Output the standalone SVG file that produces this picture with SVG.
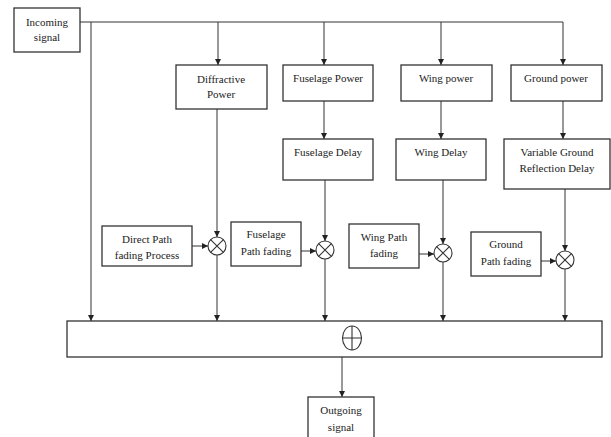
<svg xmlns="http://www.w3.org/2000/svg" width="611" height="437" viewBox="0 0 611 437">
<style>
  .box{fill:#fff;stroke:#333;stroke-width:1.3}
  .ln{fill:none;stroke:#333;stroke-width:1}
  .sym{fill:none;stroke:#333;stroke-width:1.1}
  text{font-family:"Liberation Serif","Times New Roman",serif;font-size:11px;fill:#222;text-anchor:middle}
</style>
<defs>
  <marker id="ah" markerUnits="userSpaceOnUse" markerWidth="7" markerHeight="7" refX="6" refY="3" orient="auto">
    <path d="M0,0 L6,3 L0,6 z" fill="#222"/>
  </marker>
</defs>
<rect width="611" height="437" fill="#fff"/>

<g id="connectors">
  <line class="ln" x1="80" y1="22" x2="563" y2="22"/>
  <line class="ln" x1="91" y1="22" x2="91" y2="321" marker-end="url(#ah)"/>
  <line class="ln" x1="218" y1="22" x2="218" y2="65" marker-end="url(#ah)"/>
  <line class="ln" x1="324" y1="22" x2="324" y2="65" marker-end="url(#ah)"/>
  <line class="ln" x1="441" y1="22" x2="441" y2="65" marker-end="url(#ah)"/>
  <line class="ln" x1="563" y1="22" x2="563" y2="65" marker-end="url(#ah)"/>
  <line class="ln" x1="217" y1="109" x2="217" y2="237" marker-end="url(#ah)"/>
  <line class="ln" x1="324" y1="101" x2="324" y2="139" marker-end="url(#ah)"/>
  <line class="ln" x1="325" y1="180" x2="325" y2="241" marker-end="url(#ah)"/>
  <line class="ln" x1="441" y1="101" x2="441" y2="139" marker-end="url(#ah)"/>
  <line class="ln" x1="443" y1="180" x2="443" y2="244" marker-end="url(#ah)"/>
  <line class="ln" x1="563" y1="101" x2="563" y2="139" marker-end="url(#ah)"/>
  <line class="ln" x1="565" y1="189" x2="565" y2="251" marker-end="url(#ah)"/>
  <line class="ln" x1="192" y1="246" x2="208" y2="246" marker-end="url(#ah)"/>
  <line class="ln" x1="301" y1="251" x2="316" y2="251" marker-end="url(#ah)"/>
  <line class="ln" x1="419" y1="254" x2="434" y2="254" marker-end="url(#ah)"/>
  <line class="ln" x1="541" y1="261" x2="556" y2="261" marker-end="url(#ah)"/>
  <line class="ln" x1="217" y1="255" x2="217" y2="321" marker-end="url(#ah)"/>
  <line class="ln" x1="325" y1="259" x2="325" y2="321" marker-end="url(#ah)"/>
  <line class="ln" x1="443" y1="262" x2="443" y2="321" marker-end="url(#ah)"/>
  <line class="ln" x1="565" y1="269" x2="565" y2="321" marker-end="url(#ah)"/>
  <line class="ln" x1="342" y1="357" x2="342" y2="397" marker-end="url(#ah)"/>
</g>

<g id="incoming">
  <rect class="box" x="14" y="8" width="66" height="44"/>
  <text x="47" y="26">Incoming</text>
  <text x="47" y="41">signal</text>
</g>
<g id="diffractive">
  <rect class="box" x="176" y="65" width="91" height="44"/>
  <text x="221" y="83">Diffractive</text>
  <text x="221" y="98">Power</text>
</g>
<g id="fuselage-power">
  <rect class="box" x="283" y="65" width="90" height="36"/>
  <text x="328" y="82">Fuselage Power</text>
</g>
<g id="wing-power">
  <rect class="box" x="401" y="65" width="91" height="36"/>
  <text x="446" y="82">Wing power</text>
</g>
<g id="ground-power">
  <rect class="box" x="511" y="65" width="91" height="36"/>
  <text x="556" y="82">Ground power</text>
</g>
<g id="fuselage-delay">
  <rect class="box" x="283" y="139" width="90" height="41"/>
  <text x="328" y="156">Fuselage Delay</text>
</g>
<g id="wing-delay">
  <rect class="box" x="396" y="139" width="90" height="41"/>
  <text x="441" y="156">Wing Delay</text>
</g>
<g id="ground-delay">
  <rect class="box" x="504" y="139" width="106" height="50"/>
  <text x="557" y="156">Variable Ground</text>
  <text x="557" y="172">Reflection Delay</text>
</g>
<g id="direct-fading">
  <rect class="box" x="102" y="226" width="90" height="40"/>
  <text x="147" y="243">Direct Path</text>
  <text x="147" y="259">fading Process</text>
</g>
<g id="fuselage-fading">
  <rect class="box" x="231" y="222" width="70" height="44"/>
  <text x="266" y="238">Fuselage</text>
  <text x="266" y="255">Path fading</text>
</g>
<g id="wing-fading">
  <rect class="box" x="349" y="224" width="70" height="44"/>
  <text x="384" y="241">Wing Path</text>
  <text x="384" y="257">fading</text>
</g>
<g id="ground-fading">
  <rect class="box" x="471" y="232" width="70" height="44"/>
  <text x="506" y="248">Ground</text>
  <text x="506" y="265">Path fading</text>
</g>

<g id="mult-direct">
  <circle class="sym" cx="217" cy="246" r="9"/>
  <path class="sym" d="M210.6,239.6 L223.4,252.4 M223.4,239.6 L210.6,252.4"/>
</g>
<g id="mult-fuselage">
  <circle class="sym" cx="325" cy="250" r="9"/>
  <path class="sym" d="M318.6,243.6 L331.4,256.4 M331.4,243.6 L318.6,256.4"/>
</g>
<g id="mult-wing">
  <circle class="sym" cx="443" cy="253" r="9"/>
  <path class="sym" d="M436.6,246.6 L449.4,259.4 M449.4,246.6 L436.6,259.4"/>
</g>
<g id="mult-ground">
  <circle class="sym" cx="565" cy="260" r="9"/>
  <path class="sym" d="M558.6,253.6 L571.4,266.4 M571.4,253.6 L558.6,266.4"/>
</g>

<g id="sum">
  <rect class="box" x="67" y="321" width="535" height="36"/>
  <ellipse class="sym" cx="352" cy="338" rx="9.5" ry="12"/>
  <path class="sym" d="M352,326 L352,350 M342.5,338 L361.5,338"/>
</g>
<g id="outgoing">
  <rect class="box" x="308" y="397" width="66" height="44"/>
  <text x="341" y="414">Outgoing</text>
  <text x="341" y="431">signal</text>
</g>
</svg>
